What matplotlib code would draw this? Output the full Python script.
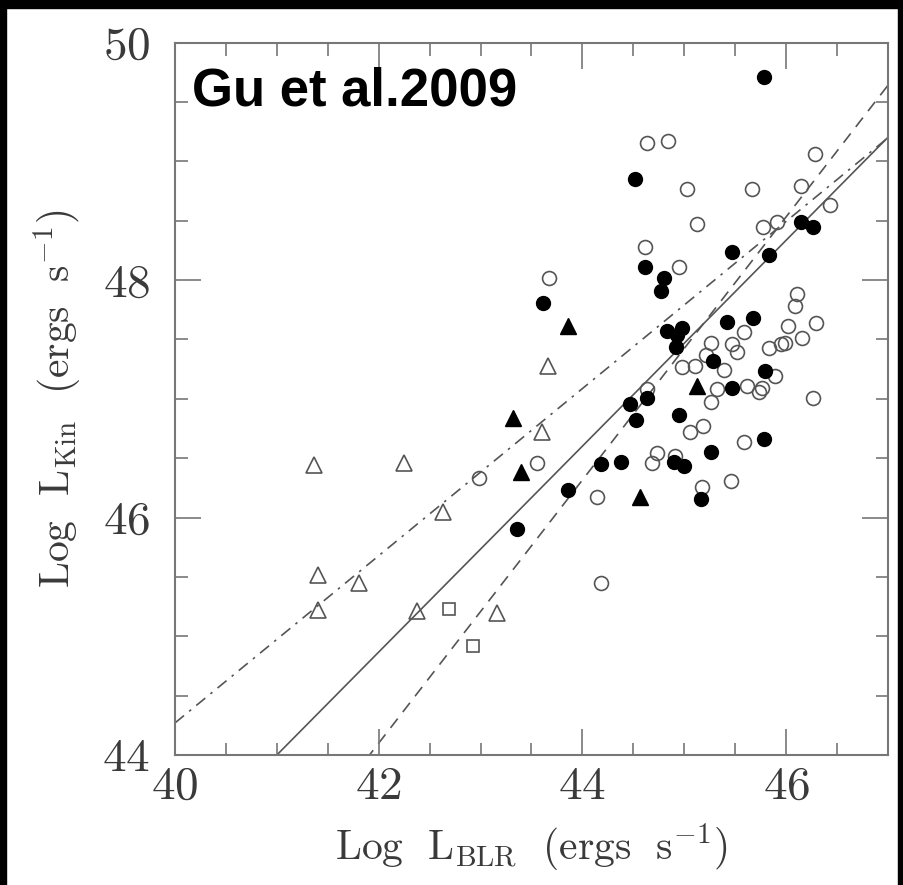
import numpy as np
import matplotlib
matplotlib.use("Agg")
import matplotlib.pyplot as plt
from matplotlib.patches import Rectangle

plt.rcParams['mathtext.fontset'] = 'cm'
plt.rcParams['font.family'] = 'cmr10'
plt.rcParams['axes.formatter.use_mathtext'] = True

# --- data ---
open_tri_x = [41.36, 42.25, 41.40, 41.40, 41.81, 42.38, 42.63, 43.16, 43.60, 43.66]
open_tri_y = [46.44, 46.46, 45.52, 45.22, 45.45, 45.21, 46.05, 45.20, 46.72, 47.28]

open_sq_x = [42.69, 42.93]
open_sq_y = [45.23, 44.92]

filled_tri_x = [43.32, 43.40, 43.86, 45.12, 44.57]
filled_tri_y = [46.84, 46.38, 47.61, 47.11, 46.17]

filled_circ_x = [43.36, 43.61, 43.86, 44.18, 44.38, 44.47, 44.63, 44.53, 44.83, 44.93,
                 44.98, 44.92, 44.95, 44.90, 45.00, 45.16, 45.26, 45.28, 45.42, 45.67,
                 45.47, 45.79, 45.78, 45.78, 44.52, 44.61, 44.80, 44.77, 45.47, 45.83,
                 46.15, 46.26]
filled_circ_y = [45.90, 47.81, 46.23, 46.45, 46.47, 46.96, 47.01, 46.82, 47.57, 47.54,
                 47.60, 47.44, 46.86, 46.47, 46.43, 46.16, 46.55, 47.32, 47.65, 47.68,
                 47.09, 47.23, 46.66, 49.71, 48.85, 48.11, 48.02, 47.91, 48.24, 48.21,
                 48.49, 48.45]

open_circ_x = [42.98, 43.55, 43.67, 44.14, 44.18, 44.63, 44.84, 45.03, 45.66, 46.15,
               46.28, 46.43, 45.12, 45.77, 45.91, 44.61, 44.95, 46.11, 46.09, 46.29,
               46.02, 46.16, 45.83, 45.95, 45.99, 45.59, 45.47, 45.52, 45.26, 45.21,
               44.98, 45.11, 45.39, 45.89, 45.62, 45.76, 45.73, 45.32, 45.26, 44.63,
               45.18, 45.06, 45.59, 46.26, 44.73, 44.68, 44.91, 45.17, 45.46]
open_circ_y = [46.33, 46.46, 48.02, 46.17, 45.45, 49.15, 49.17, 48.77, 48.77, 48.79,
               49.06, 48.63, 48.47, 48.45, 48.49, 48.28, 48.11, 47.88, 47.78, 47.64,
               47.61, 47.51, 47.43, 47.46, 47.47, 47.56, 47.46, 47.39, 47.47, 47.37,
               47.27, 47.28, 47.24, 47.19, 47.11, 47.09, 47.06, 47.08, 46.97, 47.08,
               46.77, 46.72, 46.64, 47.01, 46.54, 46.46, 46.52, 46.26, 46.31]

# fitted lines: (slope, intercept, style)
fit_slopes = [0.867, 1.108, 0.704]
fit_intercepts = [8.453, -2.436, 16.11]
fit_styles = ['-', (0, (7, 5)), (0, (7, 4, 1.5, 4))]

fig = plt.figure(figsize=(9.04, 8.85), dpi=100)
ax = fig.add_axes([175 / 904, 130 / 885, 713 / 904, 712.5 / 885])

grey = '#555555'
txt = '#3a3a3a'
xs = np.linspace(40, 47, 200)
for m, b, ls in zip(fit_slopes, fit_intercepts, fit_styles):
    ax.plot(xs, m * xs + b, color=grey, lw=1.2, linestyle=ls, zorder=1)

ms = 10
ax.plot(open_circ_x, open_circ_y, 'o', ms=ms, mfc='none', mec=grey, mew=1.2, zorder=3)
ax.plot(filled_circ_x, filled_circ_y, 'o', ms=ms, mfc='black', mec='black', zorder=3)
ax.plot(open_tri_x, open_tri_y, '^', ms=ms + 1, mfc='none', mec=grey, mew=1.2, zorder=3)
ax.plot(filled_tri_x, filled_tri_y, '^', ms=ms + 1, mfc='black', mec='black', zorder=3)
ax.plot(open_sq_x, open_sq_y, 's', ms=ms - 1, mfc='none', mec=grey, mew=1.2, zorder=3)

ax.set_xlim(40, 47)
ax.set_ylim(44, 50)
ax.set_xticks([40, 42, 44, 46])
ax.set_yticks([44, 46, 48, 50])
ax.set_xticks(np.arange(40, 47.01, 0.5), minor=True)
ax.set_yticks(np.arange(44, 50.01, 0.5), minor=True)
ax.tick_params(which='both', direction='in', top=True, right=True, color='#777777',
               width=1.2, labelcolor=txt)
ax.tick_params(which='major', length=18.5, labelsize=34)
ax.tick_params(which='minor', length=9)
ax.tick_params(axis='x', pad=8)
ax.tick_params(axis='y', pad=18)
for sp in ax.spines.values():
    sp.set_color('#777777')
    sp.set_linewidth(1.5)

ax.set_xlabel(r'$\mathrm{Log\ \ L_{BLR}\ \ (ergs\ \ s^{-1})}$', fontsize=30, labelpad=10, color=txt)
ax.set_ylabel(r'$\mathrm{Log\ \ L_{Kin}\ \ (ergs\ \ s^{-1})}$', fontsize=30, labelpad=14, color=txt)

ax.text(0.024, 0.911, 'Gu et al.2009', transform=ax.transAxes, fontsize=38,
        fontweight='bold', family='Liberation Sans', va='baseline', ha='left', zorder=5)

# black frame on the image edges
fig.patches.append(Rectangle((0, 0), 6 / 904, 1, transform=fig.transFigure, color='black'))
fig.patches.append(Rectangle((0, 1 - 8 / 885), 1, 8 / 885, transform=fig.transFigure, color='black'))
fig.patches.append(Rectangle((1 - 6 / 904, 0), 6 / 904, 1, transform=fig.transFigure, color='black'))

fig.savefig('out.png', dpi=100)
